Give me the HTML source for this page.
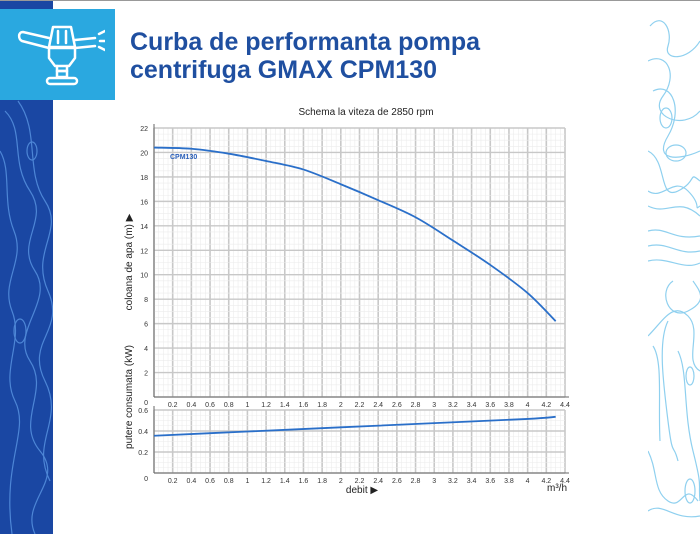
<!DOCTYPE html>
<html><head><meta charset="utf-8"><style>
body{margin:0;width:700px;height:534px;overflow:hidden;background:#fff;font-family:"Liberation Sans",sans-serif;position:relative}
</style></head><body>
<div style="position:absolute;left:0;top:0;width:700px;height:1px;background:#999"></div>
<svg style="position:absolute;left:0;top:1px" width="53" height="533">
<rect width="53" height="533" fill="#1a47a3"/>
<g fill="none" stroke="#4d86d6" stroke-width="1.2">
<path d="M5 110 C25 130 10 160 30 190 S 15 240 35 270 S 10 330 30 360 S 15 420 40 450 S 20 500 35 533"/>
<path d="M18 100 C40 130 25 170 45 200 S 30 250 48 290 S 25 340 45 380 S 30 440 50 480"/>
<path d="M0 150 C12 170 2 200 14 230 S 0 280 12 310 S 0 370 15 400 S 2 460 12 533"/>
<ellipse cx="20" cy="330" rx="6" ry="12"/><ellipse cx="32" cy="150" rx="5" ry="9"/>
</g></svg>
<svg style="position:absolute;left:648px;top:1px" width="52" height="533">
<g fill="none" stroke="#8fd0ef" stroke-width="1.2">
<path d="M2 25 C15 10 25 30 20 45 S 40 60 52 40"/>
<path d="M0 60 C20 50 30 75 15 95 S 35 130 52 110"/>
<path d="M5 90 C25 80 35 110 20 135 S 30 160 52 150"/>
<ellipse cx="18" cy="117" rx="6" ry="10"/>
<path d="M0 150 C20 160 10 200 30 190 S 40 170 52 180"/>
<path d="M0 190 C15 200 25 175 40 190 S 45 210 52 205"/>
<path d="M0 205 C20 215 30 195 52 215"/>
<ellipse cx="28" cy="152" rx="10" ry="8"/>
<path d="M0 230 C18 225 25 240 52 235"/>
<path d="M0 245 C20 240 30 255 52 250"/>
<path d="M0 260 C20 255 35 270 52 262"/>
<path d="M25 280 C10 290 20 320 40 310 S 52 290 45 280"/>
<path d="M0 335 C15 320 25 300 40 315 S 35 360 52 370"/>
<path d="M20 320 C10 340 15 380 20 420 S 25 440 30 460"/>
<path d="M5 345 C15 360 10 400 12 440"/>
<path d="M30 350 C40 370 35 410 45 450 S 50 480 52 500"/>
<ellipse cx="42" cy="375" rx="4" ry="9"/>
<path d="M0 450 C10 470 5 490 20 500 S 35 480 50 500"/>
<path d="M0 510 C15 500 25 520 52 515"/>
<ellipse cx="42" cy="490" rx="5" ry="12"/>
</g></svg>
<div style="position:absolute;left:0;top:9px;width:115px;height:91px;background:#2aa8e0"></div>
<svg style="position:absolute;left:15px;top:22px" width="90" height="65" viewBox="0 0 90 65">
<g fill="none" stroke="#fff" stroke-width="2.5" stroke-linecap="round" stroke-linejoin="round">
<path d="M38 5 h18 l4 20 h-26 z"/><path d="M43 9 v12 M51 9 v12"/>
<path d="M34 16 L8 10 C3 10 3 17 7 19 L34 26"/><path d="M60 18 L80 16 M60 26 L80 24"/>
<path d="M84 12 l6 -3 M85 19 h6 M84 25 l6 3"/>
<path d="M34 26 h26 v10 l-6 8 h-14 l-6 -8 z"/><path d="M42 44 v5 h10 v-5"/>
<rect x="42" y="49" width="10" height="6"/><rect x="32" y="56" width="30" height="6" rx="3"/>
</g></svg>
<div style="position:absolute;left:130px;top:28px;font-size:25px;font-weight:bold;color:#1f4fa0;line-height:28px">Curba de performanta pompa<br>centrifuga GMAX CPM130</div>
<svg id="chart" style="position:absolute;left:0;top:0" width="700" height="534"></svg>
<script>
const flowValues=[0,0.4,0.8,1.2,1.6,2,2.4,2.8,3.2,3.6,4,4.3];
const headValues=[20.4,20.3,19.9,19.3,18.6,17.4,16.1,14.7,12.8,10.8,8.5,6.2];
const powerFlow=[0,1,2,3,4,4.3];
const powerValues=[0.355,0.395,0.435,0.475,0.515,0.535];
const xTicks=[0.2,0.4,0.6,0.8,1,1.2,1.4,1.6,1.8,2,2.2,2.4,2.6,2.8,3,3.2,3.4,3.6,3.8,4,4.2,4.4];
const headTicks=[2,4,6,8,10,12,14,16,18,20,22];
const powerTicks=[0.2,0.4,0.6];
const svg=document.getElementById('chart');const NS='http://www.w3.org/2000/svg';
const X0=154,X1=565;const x=v=>X0+v/4.4*(X1-X0);
const hy=v=>397-v/22*(397-128);const py=v=>473-v/0.6*(473-410);
function el(t,a,p){const e=document.createElementNS(NS,t);for(const k in a)e.setAttribute(k,a[k]);(p||svg).appendChild(e);return e;}
function txt(s,a){const e=el('text',a);e.textContent=s;return e;}
function smooth(pts){let d='M'+pts[0][0]+' '+pts[0][1];for(let i=0;i<pts.length-1;i++){const p0=pts[i-1]||pts[i],p1=pts[i],p2=pts[i+1],p3=pts[i+2]||p2;
 d+=' C'+(p1[0]+(p2[0]-p0[0])/6)+' '+(p1[1]+(p2[1]-p0[1])/6)+' '+(p2[0]-(p3[0]-p1[0])/6)+' '+(p2[1]-(p3[1]-p1[1])/6)+' '+p2[0]+' '+p2[1];}return d;}
function panel(name,yf,yMax,top,bot,ticks,fmt){
 const g=el('g',{});
 for(let v=0;v<=4.4001;v+=0.05){const mj=Math.abs(v/0.2-Math.round(v/0.2))<1e-6;el('line',{x1:x(v),x2:x(v),y1:top,y2:bot,stroke:mj?'#c8c8c8':'#ececec','stroke-width':mj?1.6:0.6},g);}
 for(let v=0;v<=yMax+1e-9;v+=yMax/(name==='head-panel'?44:12)){const k=Math.round(v/(yMax/(name==='head-panel'?11:3))*1000)/1000;const mj=Math.abs(k-Math.round(k))<1e-6;el('line',{x1:X0,x2:X1,y1:yf(v),y2:yf(v),stroke:mj?'#c8c8c8':'#ececec','stroke-width':mj?1.4:0.6},g);}
 el('line',{x1:X0,x2:X0,y1:top-4,y2:bot,stroke:'#666','stroke-width':1},g);
 el('line',{x1:X0,x2:X1+4,y1:bot,y2:bot,stroke:'#666','stroke-width':1},g);
 ticks.forEach(t=>{const e=txt(fmt(t),{x:148,y:yf(t)+3,'font-size':7,'text-anchor':'end',fill:'#333'});});
 txt('0',{x:148,y:bot+8,'font-size':7,'text-anchor':'end',fill:'#333'});
 xTicks.forEach(t=>{const e=txt(String(Math.round(t*10)/10),{x:x(t),y:bot+10,'font-size':7,'text-anchor':'middle',fill:'#333'});});
}
panel('head-panel',hy,22,128,397,headTicks,String);
panel('power-panel',py,0.6,410,473,powerTicks,String);
let p=el('path',{d:smooth(flowValues.map((f,i)=>[x(f),hy(headValues[i])])),fill:'none',stroke:'#2a6fc9','stroke-width':1.8});

let p2=el('path',{d:smooth(powerFlow.map((f,i)=>[x(f),py(powerValues[i])])),fill:'none',stroke:'#2a6fc9','stroke-width':1.8});

let l=txt('CPM130',{x:170,y:159,'font-size':7,'font-weight':'bold',fill:'#2a5fb9'});
let s=txt('Schema la viteza de 2850 rpm',{x:366,y:115,'font-size':10,'text-anchor':'middle',fill:'#222'});
let a=txt('coloana de apa (m) ▶',{x:0,y:0,'font-size':10,'text-anchor':'middle',fill:'#222',transform:'translate(132,262) rotate(-90)'});
let b=txt('putere consumata (kW)',{x:0,y:0,'font-size':10,'text-anchor':'middle',fill:'#222',transform:'translate(132,397) rotate(-90)'});
let c=txt('debit ▶',{x:362,y:493,'font-size':10,'text-anchor':'middle',fill:'#222'});
let u=txt('m³/h',{x:557,y:491,'font-size':10,'text-anchor':'middle',fill:'#222'});
</script>
</body></html>
